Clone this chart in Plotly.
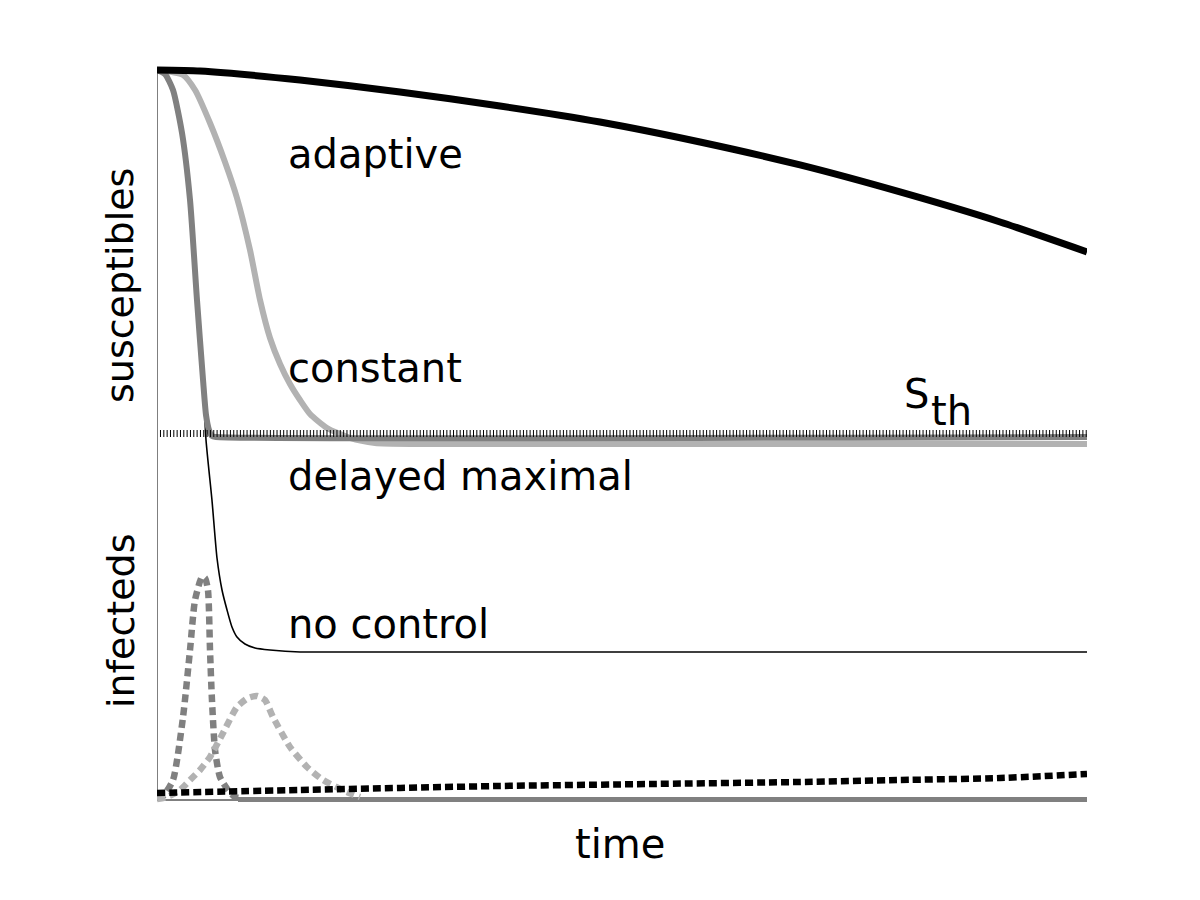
import plotly.graph_objects as go

# ---- data (time in % of horizon, population fraction on a shared normalised axis) ----
t_adaptive_S = [0, 4.62, 15.38, 26.13, 36.88, 47.63, 58.39, 69.14, 79.89, 90.65, 100]
y_adaptive_S = [1.0, 0.9986, 0.9863, 0.9699, 0.9507, 0.9288, 0.9014, 0.8699, 0.8329, 0.7918, 0.7507]

t_constant_S = [0, 2.80, 4.09, 5.70, 7.31, 8.60, 10.00, 11.08, 12.15, 13.23, 14.30, 15.38, 16.45, 18.28, 20.75, 23.44, 28.28, 100]
y_constant_S = [1.0, 0.9932, 0.9726, 0.9274, 0.8740, 0.8247, 0.7534, 0.6849, 0.6329, 0.5973, 0.5699, 0.5479, 0.5288, 0.5096, 0.4959, 0.4890, 0.4877, 0.4877]

t_delayed_S = [0, 0.86, 1.72, 2.69, 3.55, 4.30, 4.95, 5.27, 5.59, 5.91, 6.34, 100]
y_delayed_S = [1.0, 0.9945, 0.9726, 0.9137, 0.8219, 0.6849, 0.5753, 0.5274, 0.5068, 0.4986, 0.4973, 0.4973]

t_nocontrol_S = [0, 0.86, 1.72, 2.69, 3.55, 4.30, 4.95, 5.27, 5.91, 6.45, 6.99, 7.53, 8.06, 8.60, 9.46, 10.54, 12.15, 15.38, 100]
y_nocontrol_S = [1.0, 0.9945, 0.9726, 0.9137, 0.8219, 0.6849, 0.5753, 0.4932, 0.4110, 0.3315, 0.2877, 0.2603, 0.2370, 0.2233, 0.2137, 0.2082, 0.2055, 0.2027, 0.2027]

S_threshold = 0.5021
t_threshold = [0.32, 100]

t_delayed_I = [0, 0.65, 1.72, 2.80, 3.55, 4.09, 4.84, 5.16, 5.48, 5.70, 5.91, 6.24, 6.77, 7.63, 8.39, 8.92]
y_delayed_I = [0.0027, 0.0055, 0.0274, 0.1137, 0.2055, 0.2740, 0.3055, 0.3041, 0.2877, 0.2055, 0.1370, 0.0685, 0.0315, 0.0137, 0.0041, 0.0027]

t_delayed_I_tail = [8.71, 100]
y_delayed_I_tail = [0.0007, 0.0007]

t_constant_I = [0, 1.08, 2.47, 3.55, 4.62, 5.70, 7.10, 8.60, 9.78, 10.75, 11.61, 12.47, 14.30, 16.13, 17.85, 20.43, 21.83]
y_constant_I = [0.0014, 0.0041, 0.0137, 0.0274, 0.0411, 0.0589, 0.0918, 0.1274, 0.1397, 0.1425, 0.1370, 0.1137, 0.0726, 0.0452, 0.0274, 0.0110, 0.0041]

t_adaptive_I = [0, 15.38, 36.88, 53.01, 69.14, 79.89, 90.65, 100]
y_adaptive_I = [0.0096, 0.0137, 0.0192, 0.0219, 0.0247, 0.0274, 0.0301, 0.0356]

strategy_labels = ["adaptive", "constant", "delayed maximal", "no control"]
label_y = [0.8849, 0.5918, 0.4438, 0.2411]
label_x = 13.98

BLACK = "#000000"
DARK = "#808080"
LIGHT = "#b2b2b2"
FONT = "DejaVu Sans"

fig = go.Figure()

def add(x, y, color, width, dash="solid", shape="spline", smoothing=0.6):
    fig.add_trace(go.Scatter(x=x, y=y, mode="lines",
                             line=dict(color=color, width=width, dash=dash,
                                       shape=shape, smoothing=smoothing),
                             showlegend=False, hoverinfo="skip"))

# susceptibles
add(t_constant_S, y_constant_S, LIGHT, 6)
add(t_nocontrol_S, y_nocontrol_S, BLACK, 1.6)
add(t_delayed_S, y_delayed_S, DARK, 6)
add(t_adaptive_S, y_adaptive_S, BLACK, 7)
# threshold
add(t_threshold, [S_threshold, S_threshold], BLACK, 7, dash="1px,2.33px", shape="linear")
# infecteds
add(t_delayed_I_tail, y_delayed_I_tail, DARK, 5, shape="linear")
add(t_delayed_I, y_delayed_I, DARK, 6.5, dash="8px,5px")
add(t_constant_I, y_constant_I, LIGHT, 6.5, dash="8px,5px")
add(t_adaptive_I, y_adaptive_I, BLACK, 6.5, dash="8px,4px")

# axes spines
fig.add_shape(type="line", xref="x", yref="y", x0=0, x1=0, y0=0, y1=1,
              line=dict(color=BLACK, width=1), layer="below")
fig.add_shape(type="line", xref="x", yref="y", x0=0, x1=100, y0=0, y1=0,
              line=dict(color=BLACK, width=1), layer="below")

for lab, ly in zip(strategy_labels, label_y):
    fig.add_annotation(x=label_x, y=ly, xref="x", yref="y", text=lab,
                       showarrow=False, xanchor="left", yanchor="middle",
                       borderpad=0, font=dict(family=FONT, size=40, color=BLACK))

fig.add_annotation(x=80.2, y=0.5562, xref="x", yref="y", text="S", showarrow=False,
                   xanchor="left", yanchor="middle", borderpad=0,
                   font=dict(family=FONT, size=40, color=BLACK))
fig.add_annotation(x=83.1, y=0.5329, xref="x", yref="y", text="th", showarrow=False,
                   xanchor="left", yanchor="middle", borderpad=0,
                   font=dict(family=FONT, size=40, color=BLACK))

fig.add_annotation(x=0.4978, y=-0.0453, xref="paper", yref="paper", text="time",
                   showarrow=False, xanchor="center", yanchor="middle",
                   font=dict(family=FONT, size=40, color=BLACK))
fig.add_annotation(x=-0.0398, y=0.70, xref="paper", yref="paper", text="susceptibles",
                   showarrow=False, xanchor="center", yanchor="middle", textangle=-90,
                   font=dict(family=FONT, size=38, color=BLACK))
fig.add_annotation(x=-0.0387, y=0.252, xref="paper", yref="paper", text="infecteds",
                   showarrow=False, xanchor="center", yanchor="middle", textangle=-90,
                   font=dict(family=FONT, size=38, color=BLACK))

fig.update_xaxes(range=[0, 100], showgrid=False, zeroline=False, showticklabels=False,
                 ticks="", showline=False)
fig.update_yaxes(range=[-10/730, 1 + 10/730], showgrid=False, zeroline=False,
                 showticklabels=False, ticks="", showline=False)
# page body has an 8px margin: figure sized/placed so the plot area lands at x 157-1087, y 60-810
fig.update_layout(width=1184, height=884, plot_bgcolor="white", paper_bgcolor="white",
                  margin=dict(l=149, r=105, t=52, b=82), showlegend=False)

fig.write_html("out.html")
